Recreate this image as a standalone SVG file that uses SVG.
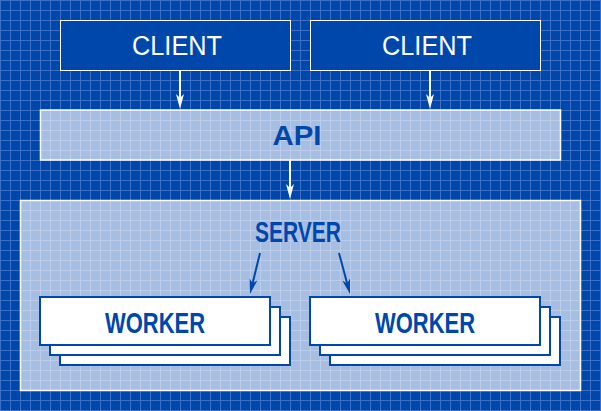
<svg xmlns="http://www.w3.org/2000/svg" width="601" height="411" viewBox="0 0 601 411">
  <style>
    .client-box { fill: #0047ab; stroke: #ffffff; stroke-width: 1; }
    .glass { fill: #ffffff; fill-opacity: 0.65; stroke: #ffffff; stroke-width: 1.5; }
    .card { fill: #ffffff; stroke: #0047ab; stroke-width: 2; }
    .white-label { font-family: "Liberation Sans", Arial, sans-serif; font-size: 27px; fill: #ffffff; text-anchor: middle; }
    .blue-label { font-family: "Liberation Sans", Arial, sans-serif; font-size: 28px; font-weight: bold; fill: #0047ab; text-anchor: middle; }
    .big { font-size: 30px; }
    .wline { stroke: #ffffff; stroke-width: 2; fill: none; }
    .bline { stroke: #0047ab; stroke-width: 2; fill: none; }
  </style>
  <defs>
    <pattern id="grid" patternUnits="userSpaceOnUse" width="10" height="10">
      <rect width="10" height="10" fill="#0047ab"/>
      <path d="M0.5,0 V10 M0,0.5 H10" stroke="#3d6fc4" stroke-width="1" fill="none"/>
    </pattern>
    <marker id="ahw" markerUnits="userSpaceOnUse" markerWidth="16" markerHeight="10" refX="4" refY="5" orient="auto" viewBox="0 0 16 10">
      <path d="M15,5 L0,1 L4,5 L0,9 Z" fill="#ffffff"/>
    </marker>
    <marker id="ahb" markerUnits="userSpaceOnUse" markerWidth="16" markerHeight="10" refX="4" refY="5" orient="auto" viewBox="0 0 16 10">
      <path d="M15,5 L0,1 L4,5 L0,9 Z" fill="#0047ab"/>
    </marker>
  </defs>

  <rect x="0" y="0" width="601" height="411" fill="url(#grid)"/>

  <g id="client1">
    <rect class="client-box" x="60.5" y="20.5" width="230" height="50"/>
    <text class="white-label" x="177" y="55" textLength="90" lengthAdjust="spacingAndGlyphs">CLIENT</text>
  </g>
  <g id="client2">
    <rect class="client-box" x="310.5" y="20.5" width="230" height="50"/>
    <text class="white-label" x="427" y="55" textLength="90" lengthAdjust="spacingAndGlyphs">CLIENT</text>
  </g>

  <g id="api">
    <rect class="glass" x="40.5" y="110" width="520" height="50"/>
    <text class="blue-label" x="297" y="145" textLength="49" lengthAdjust="spacingAndGlyphs">API</text>
  </g>

  <g id="server">
    <rect class="glass" x="20.5" y="200.5" width="560" height="190"/>
    <text class="blue-label big" x="298" y="242" textLength="86" lengthAdjust="spacingAndGlyphs">SERVER</text>
  </g>

  <g id="worker1">
    <rect class="card" x="60" y="317" width="230" height="48"/>
    <rect class="card" x="50" y="307" width="230" height="48"/>
    <rect class="card" x="40" y="297" width="230" height="48"/>
    <text class="blue-label big" x="155" y="333" textLength="100" lengthAdjust="spacingAndGlyphs">WORKER</text>
  </g>
  <g id="worker2">
    <rect class="card" x="330" y="317" width="230" height="48"/>
    <rect class="card" x="320" y="307" width="230" height="48"/>
    <rect class="card" x="310" y="297" width="230" height="48"/>
    <text class="blue-label big" x="425" y="333" textLength="100" lengthAdjust="spacingAndGlyphs">WORKER</text>
  </g>

  <g id="connectors">
    <line class="wline" x1="180" y1="71" x2="180" y2="98" marker-end="url(#ahw)"/>
    <line class="wline" x1="430" y1="71" x2="430" y2="98" marker-end="url(#ahw)"/>
    <line class="wline" x1="290" y1="160.5" x2="290" y2="188" marker-end="url(#ahw)"/>
    <line class="bline" x1="260" y1="253" x2="252.6" y2="283.3" marker-end="url(#ahb)"/>
    <line class="bline" x1="339" y1="253" x2="347.15" y2="283.4" marker-end="url(#ahb)"/>
  </g>
</svg>
